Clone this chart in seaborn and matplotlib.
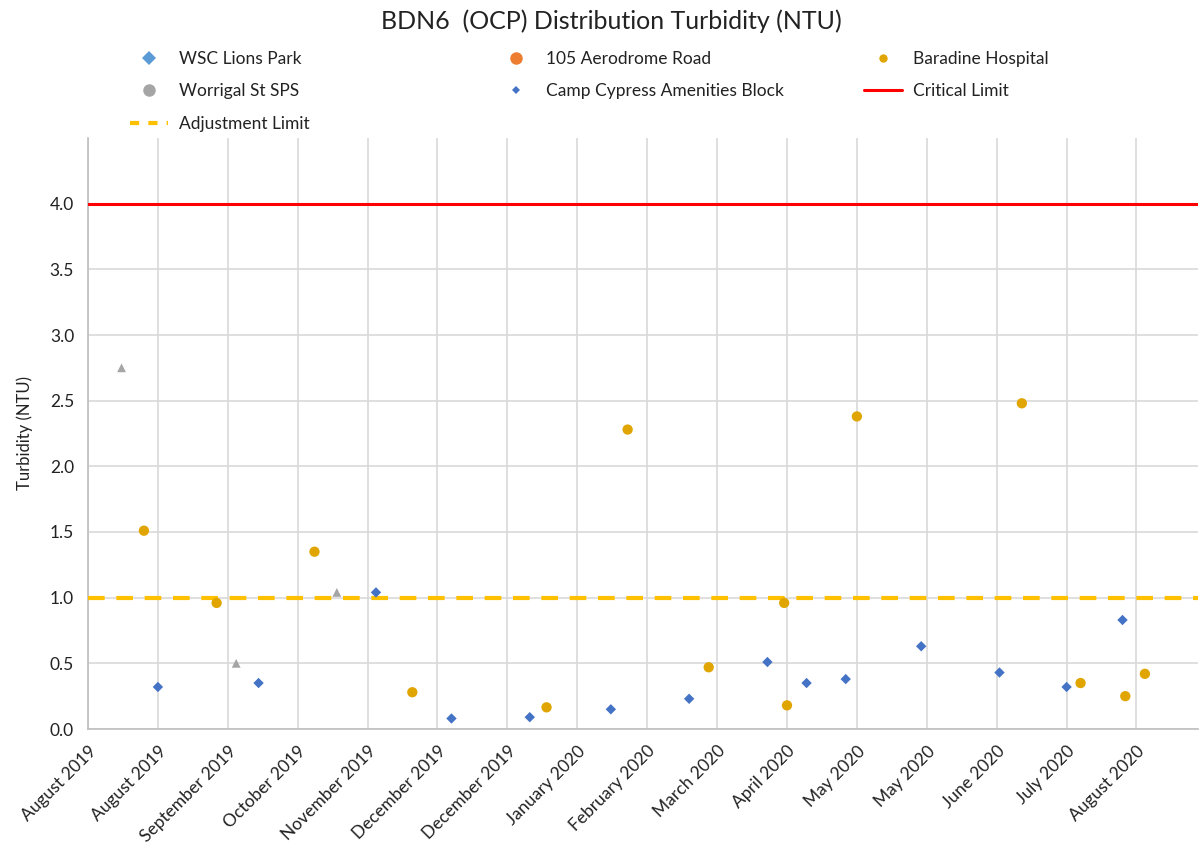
import matplotlib
matplotlib.use("Agg")
import matplotlib.pyplot as plt
from matplotlib.lines import Line2D
import seaborn as sns
import pandas as pd
import numpy as np

# Sample dates and turbidity readings (NTU) per site
worrigal_dates = ["2019-08-13", "2019-09-23", "2019-10-29"]
worrigal_ntu = [2.75, 0.50, 1.04]

baradine_dates = ["2019-08-21", "2019-09-16", "2019-10-21", "2019-11-25", "2020-01-12",
                  "2020-02-10", "2020-03-10", "2020-04-06", "2020-04-07", "2020-05-02",
                  "2020-06-30", "2020-07-21", "2020-08-06", "2020-08-13"]
baradine_ntu = [1.51, 0.96, 1.35, 0.28, 0.165, 2.28, 0.47, 0.96, 0.18, 2.38,
                2.48, 0.35, 0.25, 0.42]

camp_dates = ["2019-08-26", "2019-10-01", "2019-11-12", "2019-12-09", "2020-01-06",
              "2020-02-04", "2020-03-03", "2020-03-31", "2020-04-14", "2020-04-28",
              "2020-05-25", "2020-06-22", "2020-07-16", "2020-08-05"]
camp_ntu = [0.32, 0.35, 1.04, 0.08, 0.09, 0.15, 0.23, 0.51, 0.35, 0.38,
            0.63, 0.43, 0.32, 0.83]

critical_limit = 4.0
adjustment_limit = 1.0

x_start = "2019-08-01"
x_end = "2020-09-01"
tick_step_days = 25

sns.set_theme(style="white")
plt.rcParams["font.family"] = ["Lato", "DejaVu Sans"]

fig = plt.figure(figsize=(12.03, 8.5), dpi=100)
ax = fig.add_axes([88 / 1203, 1 - 729 / 850, (1198 - 88) / 1203, (729 - 138) / 850])

c_wsc = "#5B9BD5"
c_aero = "#ED7D31"
c_bar = "#E0A500"
c_grey = "#A5A5A5"
c_camp = "#4472C4"

wor = pd.DataFrame({"date": pd.to_datetime(worrigal_dates), "ntu": worrigal_ntu})
bar = pd.DataFrame({"date": pd.to_datetime(baradine_dates), "ntu": baradine_ntu})
camp = pd.DataFrame({"date": pd.to_datetime(camp_dates), "ntu": camp_ntu})

sns.scatterplot(data=wor, x="date", y="ntu", ax=ax, marker="^", s=40, color=c_grey,
                edgecolor="none", zorder=4, legend=False)
sns.scatterplot(data=bar, x="date", y="ntu", ax=ax, marker="o", s=55, color=c_bar,
                edgecolor="none", zorder=4, legend=False)
sns.scatterplot(data=camp, x="date", y="ntu", ax=ax, marker="D", s=28, color=c_camp,
                edgecolor="none", zorder=4, legend=False)

ax.axhline(critical_limit, color="#FF0000", lw=2.2, zorder=3)
ax.axhline(adjustment_limit, color="#FFC000", lw=3, ls=(0, (4, 2.8)), zorder=3)

x0 = pd.Timestamp(x_start)
x1 = pd.Timestamp(x_end)
ax.set_xlim(x0, x1)
ax.set_ylim(0, 4.5)

ticks = pd.date_range(x0, x1, freq=f"{tick_step_days}D")
ax.set_xticks(ticks)
ax.set_xticklabels([t.strftime("%B %Y") for t in ticks], rotation=45, ha="right",
                   rotation_mode="anchor", fontsize=12.5, color="#222222")
ax.set_xticks(pd.date_range(x0, x1, freq="5D"), minor=True)

ax.set_yticks(np.arange(0, 4.01, 0.5))
ax.set_yticklabels([f"{v:.1f}" for v in np.arange(0, 4.01, 0.5)], fontsize=12.5, color="#222222")
ax.set_yticks(np.arange(0, 4.51, 0.1), minor=True)

ax.grid(True, which="major", color="#D9D9D9", lw=1.2)
ax.set_axisbelow(True)
for side in ["top", "right"]:
    ax.spines[side].set_visible(False)
for side in ["left", "bottom"]:
    ax.spines[side].set_color("#BFBFBF")
    ax.spines[side].set_linewidth(1.2)

ax.tick_params(axis="both", which="both", direction="out", color="#BFBFBF", width=1.2)
ax.tick_params(axis="both", which="major", length=6, pad=4)
ax.tick_params(axis="both", which="minor", length=5)
ax.tick_params(axis="x", which="major", pad=4)

ax.set_xlabel("")
ax.set_ylabel("Turbidity (NTU)", fontsize=12, color="#222222", labelpad=12)

fig.text(611 / 1203, 1 - 21 / 850, "BDN6  (OCP) Distribution Turbidity (NTU)",
         ha="center", va="center", fontsize=18, color="#222222")

# Legend, laid out as three fixed columns
col1 = [
    (Line2D([], [], ls="none", marker="D", color=c_wsc, markersize=7, markeredgewidth=0), "WSC Lions Park"),
    (Line2D([], [], ls="none", marker="o", color=c_grey, markersize=9, markeredgewidth=0), "Worrigal St SPS"),
    (Line2D([], [], color="#FFC000", lw=3, ls=(0, (2.2, 2.2))), "Adjustment Limit"),
]
col2 = [
    (Line2D([], [], ls="none", marker="o", color=c_aero, markersize=9, markeredgewidth=0), "105 Aerodrome Road"),
    (Line2D([], [], ls="none", marker="D", color=c_camp, markersize=4.5, markeredgewidth=0), "Camp Cypress Amenities Block"),
]
col3 = [
    (Line2D([], [], ls="none", marker="o", color=c_bar, markersize=6, markeredgewidth=0), "Baradine Hospital"),
    (Line2D([], [], color="#FF0000", lw=2.2), "Critical Limit"),
]
for items, xpos in [(col1, 130 / 1203), (col2, 497 / 1203), (col3, 864 / 1203)]:
    fig.legend([h for h, _ in items], [l for _, l in items], loc="upper left",
               bbox_to_anchor=(xpos, 1 - 51 / 850), frameon=False, fontsize=12.5,
               handlelength=2.2, handletextpad=0.6, labelspacing=0.95,
               borderaxespad=0, borderpad=0, labelcolor="#222222")

fig.savefig("out.png", dpi=100, facecolor="white")
